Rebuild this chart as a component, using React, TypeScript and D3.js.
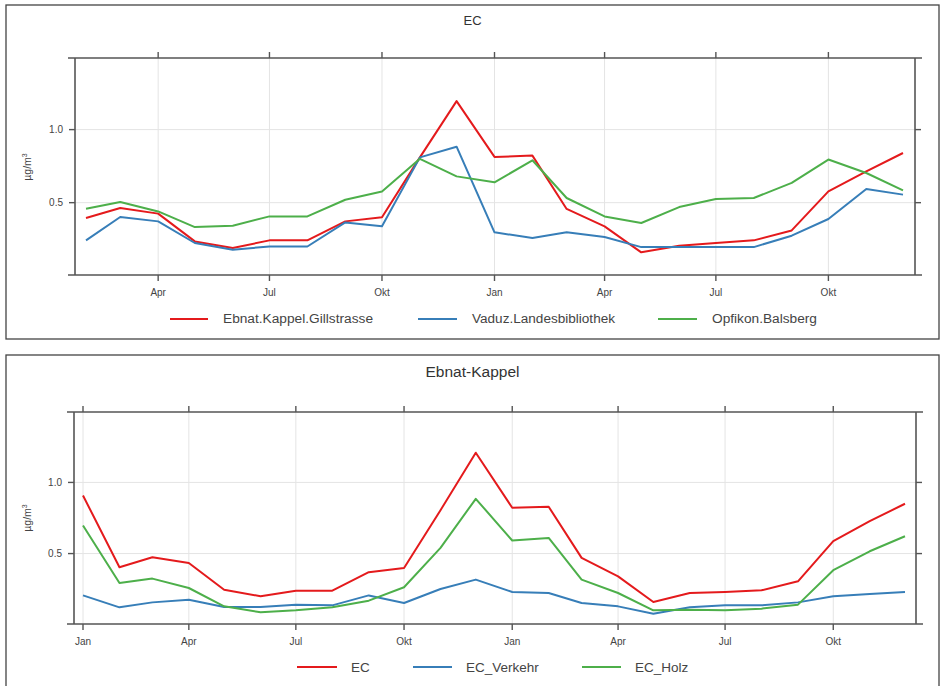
import React from "react";
import * as d3 from "d3";

// ---------- DATA ----------
const months1: string[] = [
  "2013-02", "2013-03", "2013-04", "2013-05", "2013-06", "2013-07", "2013-08", "2013-09",
  "2013-10", "2013-11", "2013-12", "2014-01", "2014-02", "2014-03", "2014-04", "2014-05",
  "2014-06", "2014-07", "2014-08", "2014-09", "2014-10", "2014-11", "2014-12",
];
const ebnatKappel: number[] = [
  0.395, 0.464, 0.425, 0.235, 0.19, 0.242, 0.242, 0.372, 0.40, 0.81, 1.195, 0.813,
  0.822, 0.457, 0.338, 0.16, 0.205, 0.224, 0.242, 0.31, 0.577, 0.714, 0.84,
];
const vaduz: number[] = [
  0.242, 0.402, 0.372, 0.224, 0.178, 0.20, 0.20, 0.365, 0.338, 0.81, 0.883, 0.297,
  0.258, 0.297, 0.265, 0.196, 0.196, 0.196, 0.196, 0.274, 0.388, 0.594, 0.555,
];
const opfikon: number[] = [
  0.459, 0.505, 0.44, 0.333, 0.342, 0.406, 0.406, 0.52, 0.577, 0.80, 0.68, 0.639,
  0.79, 0.532, 0.406, 0.361, 0.47, 0.525, 0.532, 0.635, 0.795, 0.703, 0.584,
];
const seriesNames1: string[] = ["Ebnat.Kappel.Gillstrasse", "Vaduz.Landesbibliothek", "Opfikon.Balsberg"];

const months2: string[] = [
  "2013-01", "2013-02", "2013-03", "2013-04", "2013-05", "2013-06", "2013-07", "2013-08",
  "2013-09", "2013-10", "2013-11", "2013-12", "2014-01", "2014-02", "2014-03", "2014-04",
  "2014-05", "2014-06", "2014-07", "2014-08", "2014-09", "2014-10", "2014-11", "2014-12",
];
const ecTotal: number[] = [
  0.908, 0.404, 0.474, 0.434, 0.246, 0.20, 0.239, 0.239, 0.369, 0.399, 0.805, 1.209,
  0.822, 0.829, 0.47, 0.34, 0.16, 0.223, 0.23, 0.242, 0.305, 0.587, 0.728, 0.85,
];
const ecVerkehr: number[] = [
  0.206, 0.122, 0.157, 0.176, 0.124, 0.124, 0.141, 0.136, 0.206, 0.153, 0.251, 0.317,
  0.23, 0.223, 0.153, 0.129, 0.077, 0.122, 0.136, 0.136, 0.157, 0.2, 0.216, 0.23,
];
const ecHolz: number[] = [
  0.697, 0.293, 0.324, 0.258, 0.129, 0.087, 0.101, 0.122, 0.169, 0.263, 0.54, 0.885,
  0.592, 0.61, 0.317, 0.223, 0.101, 0.106, 0.101, 0.113, 0.141, 0.383, 0.516, 0.622,
];
const seriesNames2: string[] = ["EC", "EC_Verkehr", "EC_Holz"];

const yTicks: number[] = [0.5, 1.0];
const monthLabels: string[] = ["Jan", "Feb", "Mär", "Apr", "Mai", "Jun", "Jul", "Aug", "Sep", "Okt", "Nov", "Dez"];
const COLORS = ["#E41A1C", "#377EB8", "#4DAF4A"];

const FONT = "'Liberation Sans', Arial, Helvetica, sans-serif";
const parse = d3.timeParse("%Y-%m");

type LegendItem = { x1: number; x2: number; tx: number; tlen?: number };

type PanelProps = {
  frame: { x: number; y: number; w: number; h: number };
  plot: { l: number; r: number; t: number; b: number };
  title: string;
  titleY: number;
  titleSize: number;
  months: string[];
  values: number[][];
  names: string[];
  xAnchor: [number, number]; // pixel positions of first & last month
  yDomain: [number, number];
  yLabelPos: [number, number];
  legendY: number;
  legendSize: number;
  legend: LegendItem[];
};

function Panel(p: PanelProps) {
  const dates = p.months.map((m) => parse(m) as Date);
  const x = d3.scaleTime().domain([dates[0], dates[dates.length - 1]]).range(p.xAnchor);
  const y = d3.scaleLinear().domain(p.yDomain).range([p.plot.b, p.plot.t]);
  const lo = x.invert(p.plot.l);
  const hi = x.invert(p.plot.r);
  const xTicks = d3.timeMonth.every(3)!.range(d3.timeMonth.ceil(lo), hi);
  const line = d3
    .line<number>()
    .x((_, i) => x(dates[i]))
    .y((v) => y(v));
  const axisCol = "#555";
  const tickLen = 6;
  const ext = 7;
  return (
    <g fontFamily={FONT}>
      <rect x={p.frame.x} y={p.frame.y} width={p.frame.w} height={p.frame.h} fill="#fff" stroke="#444" strokeWidth={1.3} />
      <text x={p.frame.x + p.frame.w / 2} y={p.titleY} textAnchor="middle" fontSize={p.titleSize} fill="#333">
        {p.title}
      </text>
      {/* grid */}
      {xTicks.map((d, i) => (
        <line key={"gx" + i} x1={x(d)} x2={x(d)} y1={p.plot.t} y2={p.plot.b} stroke="#e4e4e4" strokeWidth={1} />
      ))}
      {yTicks.map((v, i) => (
        <line key={"gy" + i} x1={p.plot.l} x2={p.plot.r} y1={y(v)} y2={y(v)} stroke="#e4e4e4" strokeWidth={1} />
      ))}
      {/* series */}
      {p.values.map((vals, i) => (
        <path key={"s" + i} d={line(vals) || ""} fill="none" stroke={COLORS[i]} strokeWidth={2} strokeLinejoin="round" />
      ))}
      {/* frame axes */}
      <line x1={p.plot.l - ext} x2={p.plot.r + ext} y1={p.plot.t} y2={p.plot.t} stroke={axisCol} strokeWidth={1.6} />
      <line x1={p.plot.l - ext} x2={p.plot.r + ext} y1={p.plot.b} y2={p.plot.b} stroke={axisCol} strokeWidth={1.6} />
      <line x1={p.plot.l} x2={p.plot.l} y1={p.plot.t} y2={p.plot.b} stroke={axisCol} strokeWidth={1.6} />
      <line x1={p.plot.r} x2={p.plot.r} y1={p.plot.t} y2={p.plot.b} stroke={axisCol} strokeWidth={1.6} />
      {xTicks.map((d, i) => (
        <g key={"xt" + i}>
          <line x1={x(d)} x2={x(d)} y1={p.plot.b} y2={p.plot.b + tickLen} stroke={axisCol} strokeWidth={1.4} />
          <line x1={x(d)} x2={x(d)} y1={p.plot.t} y2={p.plot.t - tickLen} stroke={axisCol} strokeWidth={1.4} />
          <text x={x(d)} y={p.plot.b + 21} textAnchor="middle" fontSize={10} fill="#444">
            {monthLabels[d.getMonth()]}
          </text>
        </g>
      ))}
      {yTicks.map((v, i) => (
        <g key={"yt" + i}>
          <line x1={p.plot.l - tickLen} x2={p.plot.l} y1={y(v)} y2={y(v)} stroke={axisCol} strokeWidth={1.4} />
          <line x1={p.plot.r} x2={p.plot.r + tickLen} y1={y(v)} y2={y(v)} stroke={axisCol} strokeWidth={1.4} />
          <text x={p.plot.l - 12} y={y(v) + 3.5} textAnchor="end" fontSize={10} fill="#444">
            {d3.format(".1f")(v)}
          </text>
        </g>
      ))}
      <text
        transform={`translate(${p.yLabelPos[0]},${p.yLabelPos[1]}) rotate(-90)`}
        textAnchor="middle"
        fontSize={10.5}
        fill="#444"
      >
        µg/m<tspan dy={-4} fontSize={7}>3</tspan>
      </text>
      {/* legend */}
      {p.legend.map((it, i) => (
        <g key={"lg" + i}>
          <line x1={it.x1} x2={it.x2} y1={p.legendY} y2={p.legendY} stroke={COLORS[i]} strokeWidth={2} />
          <text
            x={it.tx}
            y={p.legendY + p.legendSize * 0.36}
            fontSize={p.legendSize}
            fill="#444"
            textLength={it.tlen}
            lengthAdjust={it.tlen ? "spacingAndGlyphs" : undefined}
          >
            {p.names[i]}
          </text>
        </g>
      ))}
    </g>
  );
}

export default function App() {
  return (
    <svg width={941} height={686} style={{ position: "absolute", left: 0, top: 0, background: "#fff" }}>
      <Panel
        frame={{ x: 6, y: 5, w: 933, h: 334 }}
        plot={{ l: 75, r: 915, t: 58, b: 275 }}
        title="EC"
        titleY={25}
        titleSize={13}
        months={months1}
        values={[ebnatKappel, vaduz, opfikon]}
        names={seriesNames1}
        xAnchor={[86, 903]}
        yDomain={[0.005, 1.49]}
        yLabelPos={[31, 167]}
        legendY={319}
        legendSize={12}
        legend={[
          { x1: 170, x2: 208, tx: 223, tlen: 150 },
          { x1: 418, x2: 457, tx: 472, tlen: 143 },
          { x1: 658, x2: 697, tx: 712, tlen: 105 },
        ]}
      />
      <Panel
        frame={{ x: 6, y: 355, w: 933, h: 340 }}
        plot={{ l: 74, r: 916, t: 412, b: 624 }}
        title="Ebnat-Kappel"
        titleY={377}
        titleSize={15.5}
        months={months2}
        values={[ecTotal, ecVerkehr, ecHolz]}
        names={seriesNames2}
        xAnchor={[83, 905]}
        yDomain={[0.005, 1.495]}
        yLabelPos={[31, 518]}
        legendY={667}
        legendSize={13.5}
        legend={[
          { x1: 297, x2: 337, tx: 351 },
          { x1: 413, x2: 452, tx: 466 },
          { x1: 582, x2: 621, tx: 635 },
        ]}
      />
    </svg>
  );
}
